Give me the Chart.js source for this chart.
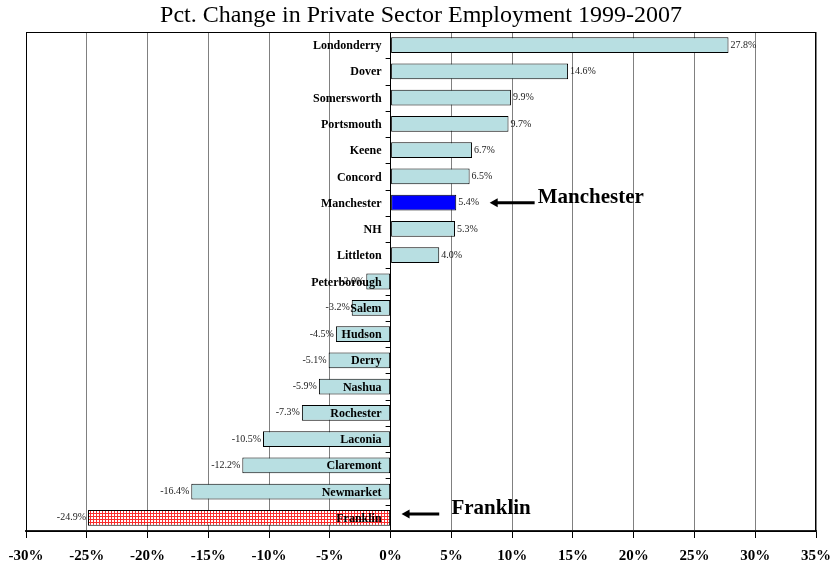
<!DOCTYPE html>
<html>
<head>
<meta charset="utf-8">
<title>Pct. Change in Private Sector Employment 1999-2007</title>
<script src="https://cdn.jsdelivr.net/npm/chart.js@4.4.0/dist/chart.umd.min.js"></script>
<style>
    body { margin: 0; background: #fff; }
    #wrap { width: 833px; height: 564px; }
</style>
</head>
<body>
<div id="wrap"><canvas id="graphCanvasEmprego" width="833" height="564"></canvas></div>
<script>
// data
var towns = ['Londonderry', 'Dover', 'Somersworth', 'Portsmouth', 'Keene', 'Concord',
    'Manchester', 'NH', 'Littleton', 'Peterborough', 'Salem', 'Hudson', 'Derry',
    'Nashua', 'Rochester', 'Laconia', 'Claremont', 'Newmarket', 'Franklin'];
var pctChange = [27.8, 14.6, 9.9, 9.7, 6.7, 6.5, 5.4, 5.3, 4.0, -2.0, -3.2, -4.5, -5.1,
    -5.9, -7.3, -10.5, -12.2, -16.4, -24.9];
var xMin = -30;
var xMax = 35;
var xStep = 5;

// callouts: [town, arrow tip %, arrow tail %, text start %, arrow offset, text offset]
var callouts = [
    ['Manchester', 8.15, 11.85, 12.1, 0, -0.19],
    ['Franklin', 0.9, 4.0, 5.0, -0.15, -0.34]
];

var serif = "'Liberation Serif', 'Times New Roman', serif";

function hatchPattern() {
    var c = document.createElement('canvas');
    c.width = 3;
    c.height = 3;
    var g = c.getContext('2d');
    g.fillStyle = 'rgb(250, 45, 45)';
    g.fillRect(0, 0, 3, 3);
    g.fillStyle = '#ffffff';
    g.fillRect(1, 1, 2, 2);
    return g.createPattern(c, 'repeat');
}

var barColors = towns.map(function(t) {
    if (t === 'Manchester') return '#0000ff';
    if (t === 'Franklin') return hatchPattern();
    return 'rgb(184, 223, 226)';
});

var labelsPlugin = {
    id: 'labelsPlugin',
    afterDatasetsDraw: function(chart) {
        var ctx = chart.ctx;
        var x = chart.scales.x;
        var y = chart.scales.y;
        var area = chart.chartArea;
        var x0 = x.getPixelForValue(0);
        var meta = chart.getDatasetMeta(0);

        ctx.save();

        // small ticks on the zero line
        ctx.strokeStyle = '#000';
        ctx.lineWidth = 1;
        ctx.beginPath();
        for (var k = 0; k <= towns.length; k++) {
            var ty = Math.round(y.getPixelForValue(k - 0.5)) + 0.5;
            ctx.moveTo(x0 - 5, ty);
            ctx.lineTo(x0, ty);
        }
        ctx.stroke();

        // value labels
        ctx.font = '10px ' + serif;
        ctx.fillStyle = '#222';
        ctx.textBaseline = 'middle';
        meta.data.forEach(function(bar, i) {
            var v = pctChange[i];
            var txt = v.toFixed(1) + '%';
            if (v >= 0) {
                ctx.textAlign = 'left';
                ctx.fillText(txt, bar.x + 2, bar.y);
            } else {
                ctx.textAlign = 'right';
                ctx.fillText(txt, bar.x - 2, bar.y);
            }
        });

        // town names at the zero line
        ctx.font = 'bold 12px ' + serif;
        ctx.fillStyle = '#000';
        ctx.textAlign = 'right';
        towns.forEach(function(t, i) {
            ctx.fillText(t, x0 - 9, y.getPixelForValue(i) + 1);
        });

        // plot frame
        ctx.strokeStyle = '#000';
        ctx.lineWidth = 1;
        ctx.strokeRect(Math.round(area.left) + 0.5, Math.round(area.top) + 0.5,
            Math.round(area.right - area.left) - 1, Math.round(area.bottom - area.top));

        // arrows + big names
        callouts.forEach(function(c) {
            var idx = towns.indexOf(c[0]);
            var tip = x.getPixelForValue(c[1]);
            var tail = x.getPixelForValue(c[2]);
            var ay = y.getPixelForValue(idx + c[4]);
            ctx.strokeStyle = '#000';
            ctx.lineWidth = 3;
            ctx.beginPath();
            ctx.moveTo(tip + 6, ay);
            ctx.lineTo(tail, ay);
            ctx.stroke();
            ctx.fillStyle = '#000';
            ctx.beginPath();
            ctx.moveTo(tip, ay);
            ctx.lineTo(tip + 8, ay - 4.5);
            ctx.lineTo(tip + 8, ay + 4.5);
            ctx.closePath();
            ctx.fill();
            ctx.font = 'bold 21px ' + serif;
            ctx.textAlign = 'left';
            ctx.textBaseline = 'middle';
            ctx.fillText(c[0], x.getPixelForValue(c[3]), y.getPixelForValue(idx + c[5]));
        });

        ctx.restore();
    }
};

var chartdata = {
    labels: towns,
    datasets: [{
        label: 'Pct. Change',
        data: pctChange,
        backgroundColor: barColors,
        borderColor: '#000',
        borderWidth: 1,
        borderSkipped: false,
        barPercentage: 0.6,
        categoryPercentage: 1.0
    }]
};

var graphTarget = document.getElementById('graphCanvasEmprego');

var barGraph = new Chart(graphTarget, {
    type: 'bar',
    data: chartdata,
    plugins: [labelsPlugin],
    options: {
        indexAxis: 'y',
        responsive: false,
        animation: false,
        layout: {
            padding: { left: 26, right: 17, top: 0, bottom: 0 }
        },
        plugins: {
            legend: { display: false },
            tooltip: { enabled: false },
            title: {
                display: true,
                fullSize: false,
                text: 'Pct. Change in Private Sector Employment 1999-2007',
                color: '#000',
                font: { family: serif, size: 24, weight: 'normal', lineHeight: 1.2 },
                padding: { top: 1, bottom: 2.2 }
            }
        },
        scales: {
            x: {
                type: 'linear',
                min: xMin,
                max: xMax,
                grid: {
                    color: function(c) {
                        return c.tick && c.tick.value === 0 ? '#000' : '#808080';
                    },
                    tickColor: '#000',
                    tickLength: 18,
                    tickBorderDash: [6, 40],
                    lineWidth: 1
                },
                border: { display: true, color: '#222', width: 2 },
                ticks: {
                    stepSize: xStep,
                    autoSkip: false,
                    maxRotation: 0,
                    padding: 0,
                    color: '#000',
                    font: { family: serif, size: 15, weight: 'bold', lineHeight: 1 },
                    callback: function(v) { return v + '%'; }
                }
            },
            y: {
                type: 'category',
                display: false,
                offset: true
            }
        }
    }
});
</script>
</body>
</html>
